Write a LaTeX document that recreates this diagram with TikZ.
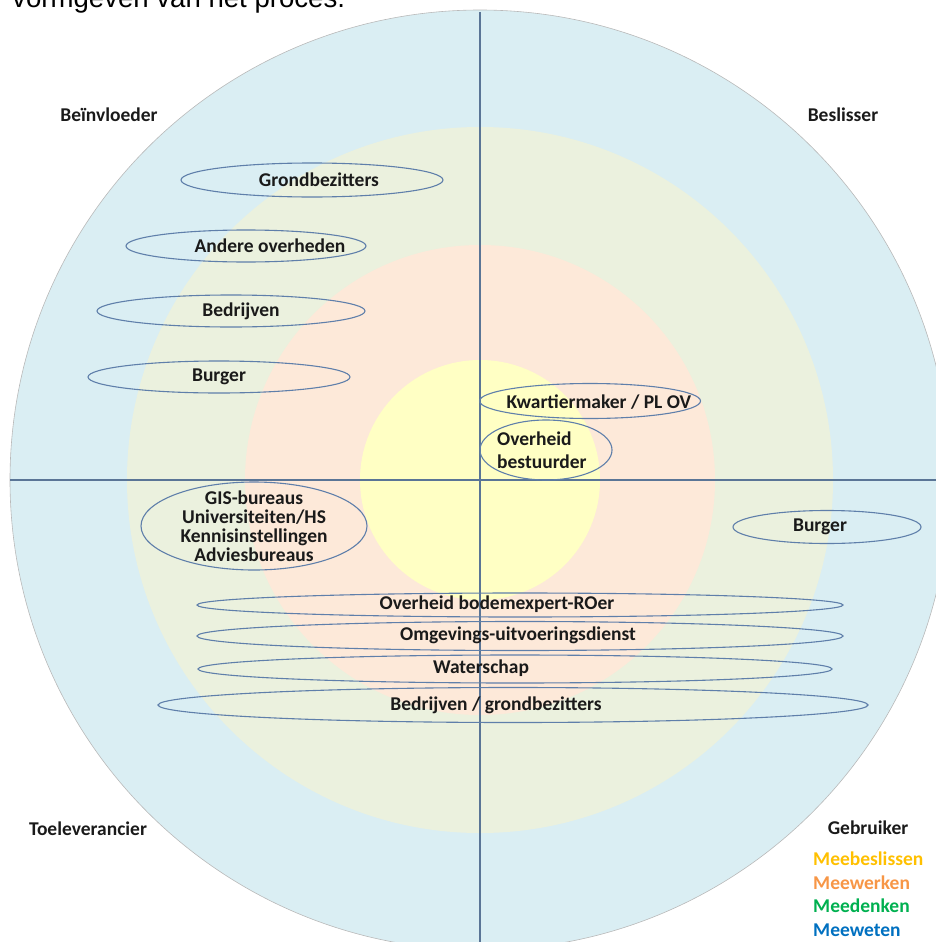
\documentclass[tikz,border=0pt]{standalone}
\usepackage{fontspec}
\setmainfont{Carlito}
\newfontfamily\arialfont{Liberation Sans}
\usetikzlibrary{shapes.geometric}
\definecolor{ringblue}{HTML}{DAEEF3}
\definecolor{ringgreen}{HTML}{EBF1DE}
\definecolor{ringpeach}{HTML}{FDE9D9}
\definecolor{ringyellow}{HTML}{FFFFC4}
\definecolor{axiscol}{HTML}{5A7596}
\definecolor{ellcol}{HTML}{5F7FAA}
\definecolor{txtcol}{HTML}{1A1A1A}
\definecolor{cbesl}{HTML}{FFC000}
\definecolor{cwerk}{HTML}{F79646}
\definecolor{cdenk}{HTML}{00B050}
\definecolor{cweet}{HTML}{0070C0}
\tikzset{
  ring/.style={circle, inner sep=0pt, draw=none},
  oval/.style={ellipse, draw=ellcol, line width=1.1pt, inner sep=0pt, fill=none},
  lbl/.style={font=\fontsize{19.5}{19}\selectfont\bfseries, text=txtcol, inner sep=0pt},
  role/.style={font=\fontsize{19.5}{22}\selectfont\bfseries, text=txtcol, inner sep=0pt},
  legend/.style={font=\fontsize{19.5}{22}\selectfont\bfseries, inner sep=0pt, anchor=west},
  axis/.style={draw=axiscol, line width=1.2pt}
}
\begin{document}
\begin{tikzpicture}[x=1pt,y=-1pt]
\useasboundingbox (0,0) rectangle (936,942);
% rings
\node[ring, fill=ringblue, draw=gray!55, line width=0.6pt, minimum size=940pt] (outer) at (480,480) {};
\node[ring, fill=ringgreen, minimum size=706pt] (green) at (480,480) {};
\node[ring, fill=ringpeach, minimum size=470pt] (peach) at (480,480) {};
\node[ring, fill=ringyellow, minimum size=240pt] (core) at (480,480) {};
% axes
\coordinate (vtop) at (480,12);
\coordinate (vbot) at (480,945);
\coordinate (hleft) at (10,480);
\coordinate (hright) at (940,480);
\draw[axis] (vtop) -- (vbot);
\draw[axis] (hleft) -- (hright);
% cut-off page text
\node[font=\arialfont\fontsize{27.6}{30}\selectfont, anchor=base west, inner sep=0pt] (pagetext) at (12,8) {vormgeven van het proces.};
% ovals
\node[oval, minimum width=262pt, minimum height=34pt] (e1) at (312,180) {};
\node[oval, minimum width=240pt, minimum height=32pt] (e2) at (246,246) {};
\node[oval, minimum width=268pt, minimum height=32pt] (e3) at (231,311) {};
\node[oval, minimum width=262pt, minimum height=32pt] (e4) at (219,377) {};
\node[oval, minimum width=221pt, minimum height=35pt] (e5) at (590,401) {};
\node[oval, minimum width=132pt, minimum height=60pt] (e6) at (546,450) {};
\node[oval, minimum width=226pt, minimum height=88pt] (e7) at (254,526) {};
\node[oval, minimum width=188pt, minimum height=33pt] (e8) at (827,527) {};
\node[oval, minimum width=646pt, minimum height=24pt] (e9) at (520,605) {};
\node[oval, minimum width=646pt, minimum height=29pt] (e10) at (520,636) {};
\node[oval, minimum width=634pt, minimum height=28pt] (e11) at (515,669) {};
\node[oval, minimum width=710pt, minimum height=35pt] (e12) at (513,705) {};
% labels
\node[lbl] (t1) at (319,180) {Grondbezitters};
\node[lbl] (t2) at (270,246) {Andere overheden};
\node[lbl] (t3) at (241,311) {Bedrijven};
\node[lbl] (t4) at (219,377) {Burger};
\node[lbl] (t5) at (599,402) {Kwartiermaker / PL OV};
\node[lbl, align=left, font=\fontsize{19.5}{23}\selectfont\bfseries, anchor=west] (t6) at (497,450) {Overheid\\bestuurder};
\node[lbl, align=center] (t7) at (254,526) {GIS-bureaus\\Universiteiten/HS\\Kennisinstellingen\\Adviesbureaus};
\node[lbl] (t8) at (820,527) {Burger};
\node[lbl] (t9) at (497,604) {Overheid bodemexpert-ROer};
\node[lbl] (t10) at (518,635) {Omgevings-uitvoeringsdienst};
\node[lbl] (t11) at (481,668) {Waterschap};
\node[lbl] (t12) at (496,705) {Bedrijven / grondbezitters};
% roles
\node[role] (r1) at (109,115) {Beïnvloeder};
\node[role] (r2) at (843,115) {Beslisser};
\node[role] (r3) at (88,829) {Toeleverancier};
\node[role] (r4) at (868,828) {Gebruiker};
% legend
\node[legend, text=cbesl] (l1) at (813,859) {Meebeslissen};
\node[legend, text=cwerk] (l2) at (813,883) {Meewerken};
\node[legend, text=cdenk] (l3) at (813,906) {Meedenken};
\node[legend, text=cweet] (l4) at (813,930) {Meeweten};
\end{tikzpicture}
\end{document}
